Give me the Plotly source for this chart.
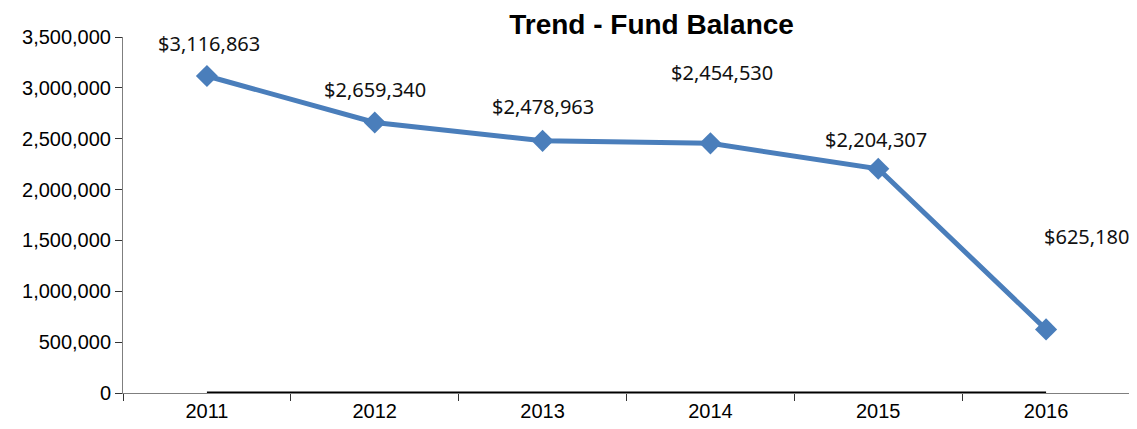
import plotly.graph_objects as go

years = ["2011", "2012", "2013", "2014", "2015", "2016"]
balance = [3116863, 2659340, 2478963, 2454530, 2204307, 625180]
zero_line = [0, 0, 0, 0, 0, 0]
label_text = ["$3,116,863", "$2,659,340", "$2,478,963", "$2,454,530", "$2,204,307", "$625,180"]
label_dx = [2, 0, 0, 12, -2, 40]
label_dy = [32, 33, 34, 71, 29, 93]
y_ticks = [0, 500000, 1000000, 1500000, 2000000, 2500000, 3000000, 3500000]

fig = go.Figure()
fig.add_trace(go.Scatter(x=years, y=zero_line, mode="lines",
                         line=dict(color="black", width=3), hoverinfo="skip"))
fig.add_trace(go.Scatter(x=years, y=balance, mode="lines+markers",
                         line=dict(color="#4A7EBB", width=5),
                         marker=dict(symbol="diamond", size=17, color="#4A7EBB")))

for i, (y, t, dx, dy) in enumerate(zip(balance, label_text, label_dx, label_dy)):
    fig.add_annotation(x=i, y=y, xref="x", yref="y", text=t, showarrow=False,
                       xshift=dx, yshift=dy,
                       font=dict(family="Noto Sans", size=20, color="#111"))

fig.update_layout(
    width=1129, height=421,
    margin=dict(l=115, r=7, t=29, b=32),
    paper_bgcolor="white", plot_bgcolor="white",
    showlegend=False,
    title=dict(text="<b>Trend - Fund Balance</b>", x=0.570, xanchor="center",
               y=0.985, yanchor="top", pad=dict(t=0, b=0),
               font=dict(family="Liberation Sans", size=28, color="black")),
    font=dict(family="Liberation Sans", size=20, color="black"),
)
fig.update_xaxes(type="category", range=[-0.5, 5.5], showline=True, linecolor="#7f7f7f",
                 linewidth=1, ticks="outside", tickson="boundaries", ticklen=7,
                 tickcolor="#333", showgrid=False, zeroline=False)
fig.update_yaxes(range=[0, 3500000], tickvals=y_ticks, tickformat=",d",
                 showline=True, linecolor="#7f7f7f", linewidth=1, ticks="outside",
                 ticklen=7, tickcolor="#333", showgrid=False, zeroline=False)

fig.write_html("out.html")
